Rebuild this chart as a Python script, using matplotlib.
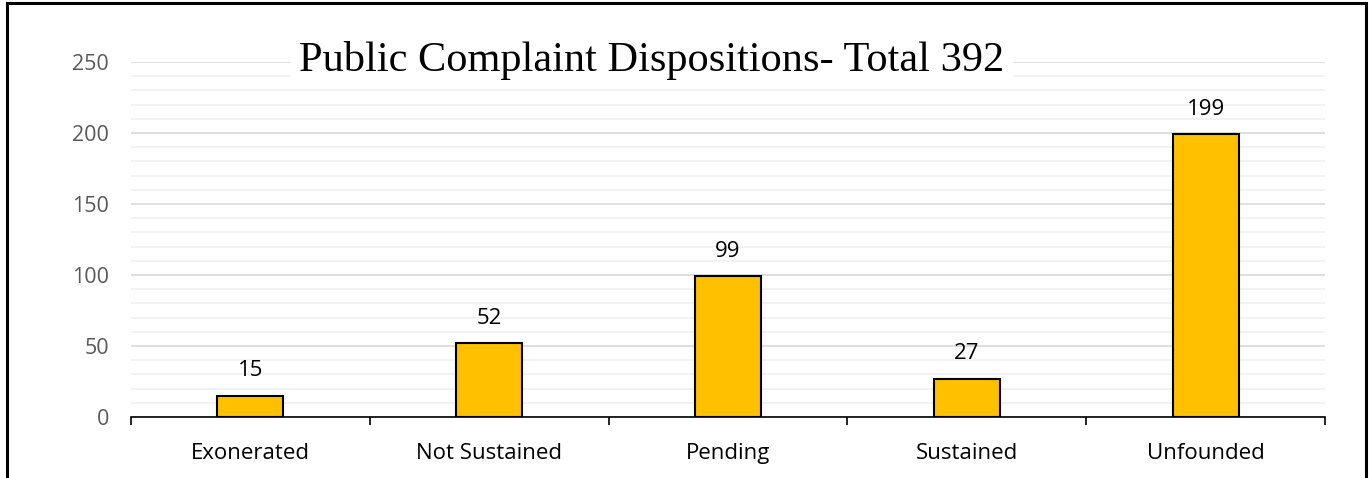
import matplotlib.pyplot as plt
from matplotlib.patches import Rectangle
import numpy as np

categories = ['Exonerated', 'Not Sustained', 'Pending', 'Sustained', 'Unfounded']
counts = [15, 52, 99, 27, 199]
title = 'Public Complaint Dispositions- Total 392'

fig = plt.figure(figsize=(13.69, 4.78), dpi=100)
ax = fig.add_axes([131 / 1369, 1 - 417 / 478, (1325 - 131) / 1369, (417 - 62) / 478])

x = np.arange(len(categories))
bars = ax.bar(x, counts, width=0.276, color='#FFC000', edgecolor='black', linewidth=1.5, zorder=3)

for xi, v in zip(x, counts):
    ax.annotate(str(v), (xi, v), xytext=(0, 18), textcoords='offset points',
                ha='center', va='center', fontsize=16, family='Open Sans', color='black')

ax.set_xlim(-0.5, len(categories) - 0.5)
ax.set_ylim(0, 250)
ax.set_yticks(range(0, 251, 50))
ax.set_yticks(range(0, 251, 10), minor=True)
ax.grid(axis='y', which='major', color='#d9d9d9', linewidth=1.2, zorder=0)
ax.grid(axis='y', which='minor', color='#f0f0f0', linewidth=1.2, zorder=0)
ax.set_axisbelow(True)

ax.set_xticks(x)
ax.set_xticklabels(categories, fontsize=16, family='Open Sans')
ax.set_xticks(np.arange(-0.5, len(categories)), minor=True)
ax.tick_params(axis='x', which='major', length=0, pad=19)
ax.tick_params(axis='x', which='minor', length=6, width=1.2, color='black')
ax.tick_params(axis='y', which='both', length=0, pad=16, labelsize=15.5, labelcolor='#595959')
for lab in ax.get_yticklabels():
    lab.set_family('Open Sans')

for s in ['top', 'right', 'left']:
    ax.spines[s].set_visible(False)
ax.spines['bottom'].set_linewidth(1.2)
ax.spines['bottom'].set_zorder(4)

fig.text(652 / 1369, 1 - 60 / 478, title, ha='center', va='center', fontsize=30.5,
         family='Liberation Serif', bbox=dict(facecolor='white', edgecolor='none', pad=6))

fig.patches.append(Rectangle((7 / 1369, -0.1), (1366 - 7) / 1369, 1.1 - 3 / 478,
                             transform=fig.transFigure, fill=False, edgecolor='black',
                             linewidth=2.2))

fig.savefig('out.png', dpi=100)
